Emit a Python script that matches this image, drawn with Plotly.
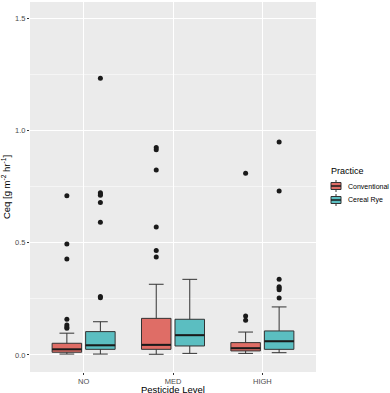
import plotly.graph_objects as go

# niveis de pesticida e praticas
niveis = ['NO', 'MED', 'HIGH']
praticas = ['Conventional', 'Cereal Rye']

# estatisticas (por nivel: NO, MED, HIGH)
conv_q1 = [0.012, 0.025, 0.018]
conv_med = [0.025, 0.045, 0.030]
conv_q3 = [0.052, 0.163, 0.055]
conv_lo = [0.004, 0.003, 0.007]
conv_hi = [0.097, 0.315, 0.102]

rye_q1 = [0.025, 0.040, 0.025]
rye_med = [0.043, 0.088, 0.061]
rye_q3 = [0.104, 0.159, 0.107]
rye_lo = [0.004, 0.007, 0.010]
rye_hi = [0.148, 0.337, 0.214]

# outliers
conv_out = [
    [0.710, 0.495, 0.428, 0.159, 0.134, 0.125, 0.119],
    [0.924, 0.915, 0.824, 0.570, 0.465, 0.437],
    [0.810, 0.174, 0.155],
]
rye_out = [
    [1.233, 0.723, 0.717, 0.712, 0.679, 0.591, 0.260, 0.255],
    [],
    [0.949, 0.731, 0.337, 0.304, 0.298, 0.291, 0.254],
]

cores = {'Conventional': '#DF6D66', 'Cereal Rye': '#5BBEC1'}
desloc = {'Conventional': -0.1875, 'Cereal Rye': 0.1875}
largura = 0.33

stats = {
    'Conventional': (conv_q1, conv_med, conv_q3, conv_lo, conv_hi, conv_out),
    'Cereal Rye': (rye_q1, rye_med, rye_q3, rye_lo, rye_hi, rye_out),
}

pos_base = [1, 2, 3]

# area do painel em pixels (para a legenda desenhada a mao)
L, R, T, B = 30, 316, 2, 372
W, H = 390, 393


def px(x):
    return (x - L) / (R - L)


def py(y):
    return (B - y) / (B - T)


fig = go.Figure()

for p in praticas:
    q1, med, q3, lo, hi, outs = stats[p]
    xs = [b + desloc[p] for b in pos_base]
    fig.add_trace(go.Box(x=xs, q1=q1, median=med, q3=q3, lowerfence=lo, upperfence=hi,
                         name=p, width=largura, boxpoints=False, showlegend=False,
                         fillcolor=cores[p], line=dict(color='#333333', width=1)))

    # mediana mais grossa (estilo ggplot)
    mx, my = [], []
    for x0, m in zip(xs, med):
        mx += [x0 - largura / 2, x0 + largura / 2, None]
        my += [m, m, None]
    fig.add_trace(go.Scatter(x=mx, y=my, mode='lines', line=dict(color='#1a1a1a', width=2),
                             showlegend=False, hoverinfo='skip'))

    ox, oy = [], []
    for x0, lista in zip(xs, outs):
        ox += [x0] * len(lista)
        oy += lista
    fig.add_trace(go.Scatter(x=ox, y=oy, mode='markers', marker=dict(color='#1a1a1a', size=5),
                             showlegend=False, hoverinfo='skip'))

# legenda estilo ggplot
fig.add_annotation(text='Practice', xref='paper', yref='paper', x=px(329), y=py(171),
                   xanchor='left', yanchor='middle', showarrow=False, font=dict(size=9))
for i, p in enumerate(praticas):
    yc = 186 + 14 * i
    fig.add_shape(type='line', xref='paper', yref='paper', x0=px(336), x1=px(336),
                  y0=py(yc - 6), y1=py(yc + 6), line=dict(color='#333333', width=1))
    fig.add_shape(type='rect', xref='paper', yref='paper', x0=px(331), x1=px(341),
                  y0=py(yc - 3.5), y1=py(yc + 3.5), fillcolor=cores[p],
                  line=dict(color='#333333', width=1))
    fig.add_shape(type='line', xref='paper', yref='paper', x0=px(331), x1=px(341),
                  y0=py(yc), y1=py(yc), line=dict(color='#1a1a1a', width=1.5))
    fig.add_annotation(text=p, xref='paper', yref='paper', x=px(346), y=py(yc),
                       xanchor='left', yanchor='middle', showarrow=False, font=dict(size=7))

# titulo do eixo x
fig.add_annotation(text='Pesticide Level', xref='paper', yref='paper', x=0.5, y=py(389.5),
                   xanchor='center', yanchor='middle', showarrow=False, font=dict(size=9.5),
                   borderpad=0)

fig.update_layout(
    width=W, height=H,
    margin=dict(l=L, r=W - R, t=T, b=H - B, autoexpand=False),
    paper_bgcolor='white', plot_bgcolor='#EBEBEB',
    font=dict(family='Liberation Sans, Arial', color='black'),
    showlegend=False,
    xaxis=dict(range=[0.4, 3.6], tickvals=pos_base, ticktext=niveis, showgrid=True,
               gridcolor='white', gridwidth=1, zeroline=False, ticks='outside', ticklen=2,
               tickcolor='#333333', tickfont=dict(size=7.5, color='#4D4D4D')),
    yaxis=dict(range=[-0.076, 1.573], tick0=0, dtick=0.5, tickformat='.1f', showgrid=True,
               gridcolor='white', gridwidth=1, zeroline=False, ticks='outside', ticklen=2,
               tickcolor='#333333', tickfont=dict(size=7.5, color='#4D4D4D'),
               minor=dict(dtick=0.25, showgrid=True, gridcolor='#F5F5F5', gridwidth=0.5),
               title=dict(text='Ceq [g m<sup>-2</sup> hr<sup>-1</sup>]', font=dict(size=9.5), standoff=4)),
)

fig.write_html("out.html", config={'displayModeBar': False},
               post_script="document.body.style.margin='0';")
